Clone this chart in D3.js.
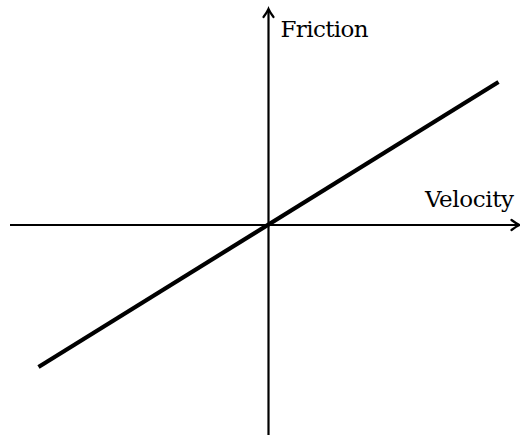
<!DOCTYPE html>
<html>
<head>
<meta charset="utf-8">
<script src="https://cdn.jsdelivr.net/npm/d3@7"></script>
<style>
  html, body { margin: 0; padding: 0; background: #fff; }
  svg { display: block; }
</style>
</head>
<body>
<div id="chart"></div>
<script>
(function () {

  // Data ---------------------------------------------------------
  const velocity = [-4.6, 4.6];
  const friction = [-2.84, 2.86];
  const xExtent = [-5.17, 5.03];   // horizontal axis span
  const yExtent = [-4.2, 4.3];     // vertical axis span
  const xLabel = "Velocity";
  const yLabel = "Friction";

  const W = 520, H = 436;
  const FONT = "'DejaVu Serif', serif";

  const x = d3.scaleLinear().domain(xExtent).range([10, 520]);
  const y = d3.scaleLinear().domain(yExtent).range([435, 10]);

  const svg = d3.select("#chart").append("svg")
    .attr("width", W)
    .attr("height", H);

  // latex-ish arrow tips
  const arrowTip = (tx, ty, angle) => {
    const g = svg.append("g")
      .attr("transform", `translate(${tx},${ty}) rotate(${angle})`);
    g.append("path")
      .attr("d", "M-8,-5 Q-3,-1.2 0,0 Q-3,1.2 -8,5")
      .attr("fill", "none")
      .attr("stroke", "#000")
      .attr("stroke-width", 2.2)
      .attr("stroke-linecap", "round");
  };

  // axes
  svg.append("line")
    .attr("x1", x(xExtent[0])).attr("x2", x(xExtent[1]) - 1)
    .attr("y1", y(0)).attr("y2", y(0))
    .attr("stroke", "#000").attr("stroke-width", 2.2);
  arrowTip(x(xExtent[1]) - 0.5, y(0), 0);

  svg.append("line")
    .attr("x1", x(0)).attr("x2", x(0))
    .attr("y1", y(yExtent[0])).attr("y2", y(yExtent[1]) + 1)
    .attr("stroke", "#000").attr("stroke-width", 2.2);
  arrowTip(x(0), y(yExtent[1]) - 1, -90);

  // friction line
  const pts = velocity.map((v, i) => [v, friction[i]]);
  svg.append("path")
    .datum(pts)
    .attr("d", d3.line().x(d => x(d[0])).y(d => y(d[1])))
    .attr("fill", "none")
    .attr("stroke", "#000")
    .attr("stroke-width", 4.2);

  // labels
  svg.append("text")
    .attr("x", x(0) + 12)
    .attr("y", 37)
    .attr("font-family", FONT)
    .attr("font-size", 23)
    .attr("textLength", 88)
    .text(yLabel);

  svg.append("text")
    .attr("x", 425)
    .attr("y", y(0) - 18)
    .attr("font-family", FONT)
    .attr("font-size", 23)
    .attr("textLength", 89)
    .text(xLabel);

})();
</script>
</body>
</html>
